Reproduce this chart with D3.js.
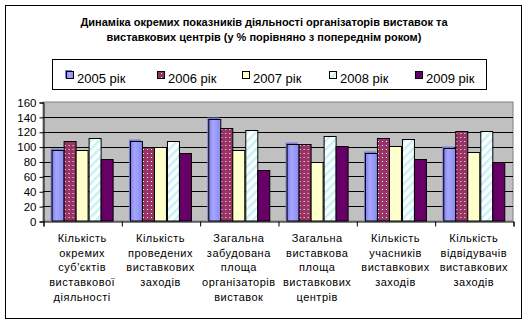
<!DOCTYPE html>
<html><head><meta charset="utf-8">
<script src="https://cdn.jsdelivr.net/npm/d3@7"></script>
<style>
html,body{margin:0;padding:0;background:#fff;}
svg{display:block;font-family:Arial,"Liberation Sans",sans-serif;}
</style></head><body>
<svg id="c" width="528" height="323"></svg>
<script>
const titleLines = ["Динаміка окремих показників діяльності організаторів виставок та",
                    "виставкових центрів (у % порівняно з попереднім роком)"];
const categories = [
  ["Кількість","окремих","суб'єктів","виставкової","діяльності"],
  ["Кількість","проведених","виставкових","заходів"],
  ["Загальна","забудована","площа","організаторів","виставок"],
  ["Загальна","виставкова","площа","виставкових","центрів"],
  ["Кількість","учасників","виставкових","заходів"],
  ["Кількість","відвідувачів","виставкових","заходів"]
];
const seriesNames = ["2005 рік","2006 рік","2007 рік","2008 рік","2009 рік"];
const v2005 = [96, 107, 137, 104, 92, 98];
const v2006 = [107, 100, 125, 103, 111, 121];
const v2007 = [96, 99, 96, 80, 101, 93];
const v2008 = [111, 107, 123, 114, 110, 121];
const v2009 = [84, 91, 68, 101, 83, 79];
const yTicks = [0,20,40,60,80,100,120,140,160];

const seriesValues = [v2005, v2006, v2007, v2008, v2009];
const fills = ["url(#g2005)","url(#p2006)","#FFFFCC","url(#p2008)","#660066"];

const svg = d3.select("#c");
const defs = svg.append("defs");
const g5 = defs.append("linearGradient").attr("id","g2005").attr("x1","0").attr("x2","1").attr("y1","0").attr("y2","0");
g5.append("stop").attr("offset","0%").attr("stop-color","#7f7fe6");
g5.append("stop").attr("offset","35%").attr("stop-color","#a6a6ff");
g5.append("stop").attr("offset","100%").attr("stop-color","#8a8af0");
const p6 = defs.append("pattern").attr("id","p2006").attr("patternUnits","userSpaceOnUse").attr("width",4).attr("height",4);
p6.append("rect").attr("width",4).attr("height",4).attr("fill","#993366");
p6.append("rect").attr("x",1).attr("y",1).attr("width",1).attr("height",1).attr("fill","#ffffff");
const p8 = defs.append("pattern").attr("id","p2008").attr("patternUnits","userSpaceOnUse").attr("width",6).attr("height",6).attr("patternTransform","rotate(45)");
p8.append("rect").attr("width",6).attr("height",6).attr("fill","#ffffff");
p8.append("rect").attr("width",2.5).attr("height",6).attr("fill","#c4f2f6");

// chart border
svg.append("rect").attr("x",5.5).attr("y",5.5).attr("width",516).attr("height",313)
  .attr("fill","#fff").attr("stroke","#000").attr("stroke-width",1);

// title
svg.append("g").selectAll("text").data(titleLines).join("text")
  .attr("x",264).attr("y",(d,i)=>25.5+i*15.5).attr("text-anchor","middle")
  .attr("font-size",11).attr("font-weight","bold").text(d=>d);

const pL=43, pR=513, pT=102, pB=221;
const x0 = d3.scaleBand().domain(d3.range(categories.length)).range([pL,pR]).paddingInner(0.22).paddingOuter(0.11);
const x1 = d3.scaleBand().domain(d3.range(seriesNames.length)).range([0,x0.bandwidth()]);
const y = d3.scaleLinear().domain([0,160]).range([pB,pT]);

// plot area
svg.append("rect").attr("x",pL).attr("y",pT).attr("width",pR-pL).attr("height",pB-pT)
  .attr("fill","#C0C0C0").attr("stroke","#808080");

// gridlines
svg.append("g").selectAll("line").data(yTicks.filter(t=>t>0 && t<160)).join("line")
  .attr("x1",pL).attr("x2",pR).attr("y1",d=>Math.round(y(d))+0.5).attr("y2",d=>Math.round(y(d))+0.5)
  .attr("stroke","#000");

// bars
const groups = svg.append("g").selectAll("g").data(categories).join("g")
  .attr("transform",(d,i)=>`translate(${x0(i)},0)`);
groups.each(function(c,ci){
  const gg = d3.select(this);
  seriesValues.forEach((vals,si)=>{
    const bx = Math.round(x1(si))+0.5, bw = Math.round(x1.bandwidth());
    const by = Math.round(y(vals[ci]))+0.5;
    if(si===0){
      gg.append("rect").attr("x",bx-1.5).attr("y",by-2).attr("width",bw).attr("height",pB-by+1)
        .attr("fill","#7b7bd8");
    }
    gg.append("rect").attr("x",bx).attr("y",by).attr("width",bw).attr("height",pB-by)
      .attr("fill",fills[si]).attr("stroke","#000").attr("stroke-width",1);
  });
});

// axes
const yAxis = d3.axisLeft(y).tickValues(yTicks).tickSize(4).tickPadding(3);
const ya = svg.append("g").attr("transform",`translate(${pL+0.5},0.5)`).call(yAxis);
ya.select(".domain").attr("stroke","#000");
ya.selectAll("text").attr("font-size",11.5).attr("font-family","Arial,'Liberation Sans',sans-serif").attr("fill","#000");

const xb = d3.scaleLinear().domain([0,categories.length]).range([pL,pR]);
const xa = svg.append("g").attr("transform",`translate(0.5,${pB+0.5})`)
  .call(d3.axisBottom(xb).ticks(categories.length).tickSize(5).tickFormat(""));
xa.select(".domain").attr("stroke","#000");

// category labels
svg.append("g").selectAll("text").data(categories).join("text")
  .attr("x",(d,i)=>x0(i)+x0.bandwidth()/2).attr("y",242)
  .attr("text-anchor","middle").attr("font-size",11).attr("letter-spacing",0.5)
  .each(function(d){
    d3.select(this).selectAll("tspan").data(d).join("tspan")
      .attr("x",d3.select(this).attr("x")).attr("dy",(t,i)=>i===0?0:14.7).text(t=>t);
  });

// legend
const lg = svg.append("g");
lg.append("rect").attr("x",52.5).attr("y",59.5).attr("width",434).attr("height",30).attr("fill","#fff").attr("stroke","#000");
const legX = [66,157,242,329,415];
seriesNames.forEach((n,i)=>{
  if(i===0){
    lg.append("rect").attr("x",legX[i]-1).attr("y",70).attr("width",7).attr("height",8).attr("fill","#7b7bd8");
  }
  lg.append("rect").attr("x",legX[i]+0.5).attr("y",71.5).attr("width",7).attr("height",7)
    .attr("fill",fills[i]).attr("stroke","#000");
  lg.append("text").attr("x",legX[i]+11).attr("y",83).attr("font-size",13).text(n);
});
</script>
</body></html>
